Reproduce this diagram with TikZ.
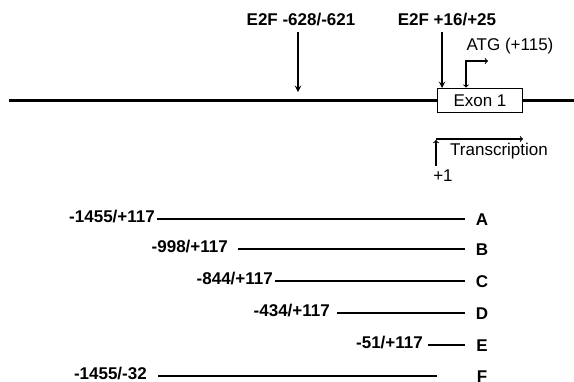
\documentclass[tikz,border=0pt]{standalone}
\usepackage{fontspec}
\setmainfont{Liberation Sans}
\usetikzlibrary{positioning}
\usetikzlibrary{calc}
\tikzset{%
  gene/.style = {line width=2.6pt},
  frag/.style = {line width=2.4pt},
  site/.style = {-stealth,line width=1.8pt},
  tss/.style = {->,line width=1.1pt},
  exon/.style = {rectangle,draw,line width=1.8pt,minimum width=85pt,
        minimum height=24pt,inner sep=0pt},
  lab/.style = {inner sep=0pt,font=\fontsize{17}{20}\selectfont\bfseries},
  txt/.style = {inner sep=0pt}
}

\begin{document}
\begin{tikzpicture}[x=1pt,y=-1pt,font=\fontsize{17}{20}\selectfont]
\useasboundingbox (0,0) rectangle (574,381);
\clip (0,0) rectangle (574,381);
\node[exon] (ex) at (480,100.5) {Exon 1};
\coordinate (gl) at (9,100.5);
\coordinate (gr) at (574,100.5);
\draw[gene] (gl) -- (ex.west);
\draw[gene] (ex.east) -- (gr);
\node[lab] (e1) at (301,20) {E2F -628/-621};
\node[lab] (e2) at (447,20) {E2F +16/+25};
\coordinate (s1) at (298,92);
\coordinate (s2) at (442,88);
\draw[site] (s1 |- 0,32) -- (s1);
\draw[site] (s2 |- 0,32) -- (s2);
\node[txt] (atg) at (510,46) {ATG (+115)};
\coordinate (atgend) at (488,61);
\draw[tss,<->] (atgend) -| (ex.north -| 466,0);
\coordinate (tss0) at (436,166);
\coordinate (tssup) at (436,140);
\coordinate (tssend) at (523,139);
\draw[tss] (tss0) -- (tssup);
\draw[tss] (tssup |- tssend) -- (tssend);
\node[txt] (tr) at (499,151) {Transcription};
\node[txt] (plus) at (443,176) {+1};
\foreach \nm/\lb/\xl/\xa/\xb/\y in {A/{-1455/+117}/155/157/465/219,
    B/{-998/+117}/228/238/465/249, C/{-844/+117}/273/275/465/281,
    D/{-434/+117}/330/337/465/313, E/{-51/+117}/423/428/465/345,
    F/{-1455/-32}/147/158/437/376}
{
  \coordinate (a\nm) at (\xa,\y);
  \coordinate (b\nm) at (\xb,\y);
  \node[lab,anchor=east] (f\nm) at (\xl,\y-2) {\lb};
  \node[lab] (l\nm) at (482,\y+1) {\nm};
  \draw[frag] (a\nm) -- (b\nm);
}
\end{tikzpicture}
\end{document}
